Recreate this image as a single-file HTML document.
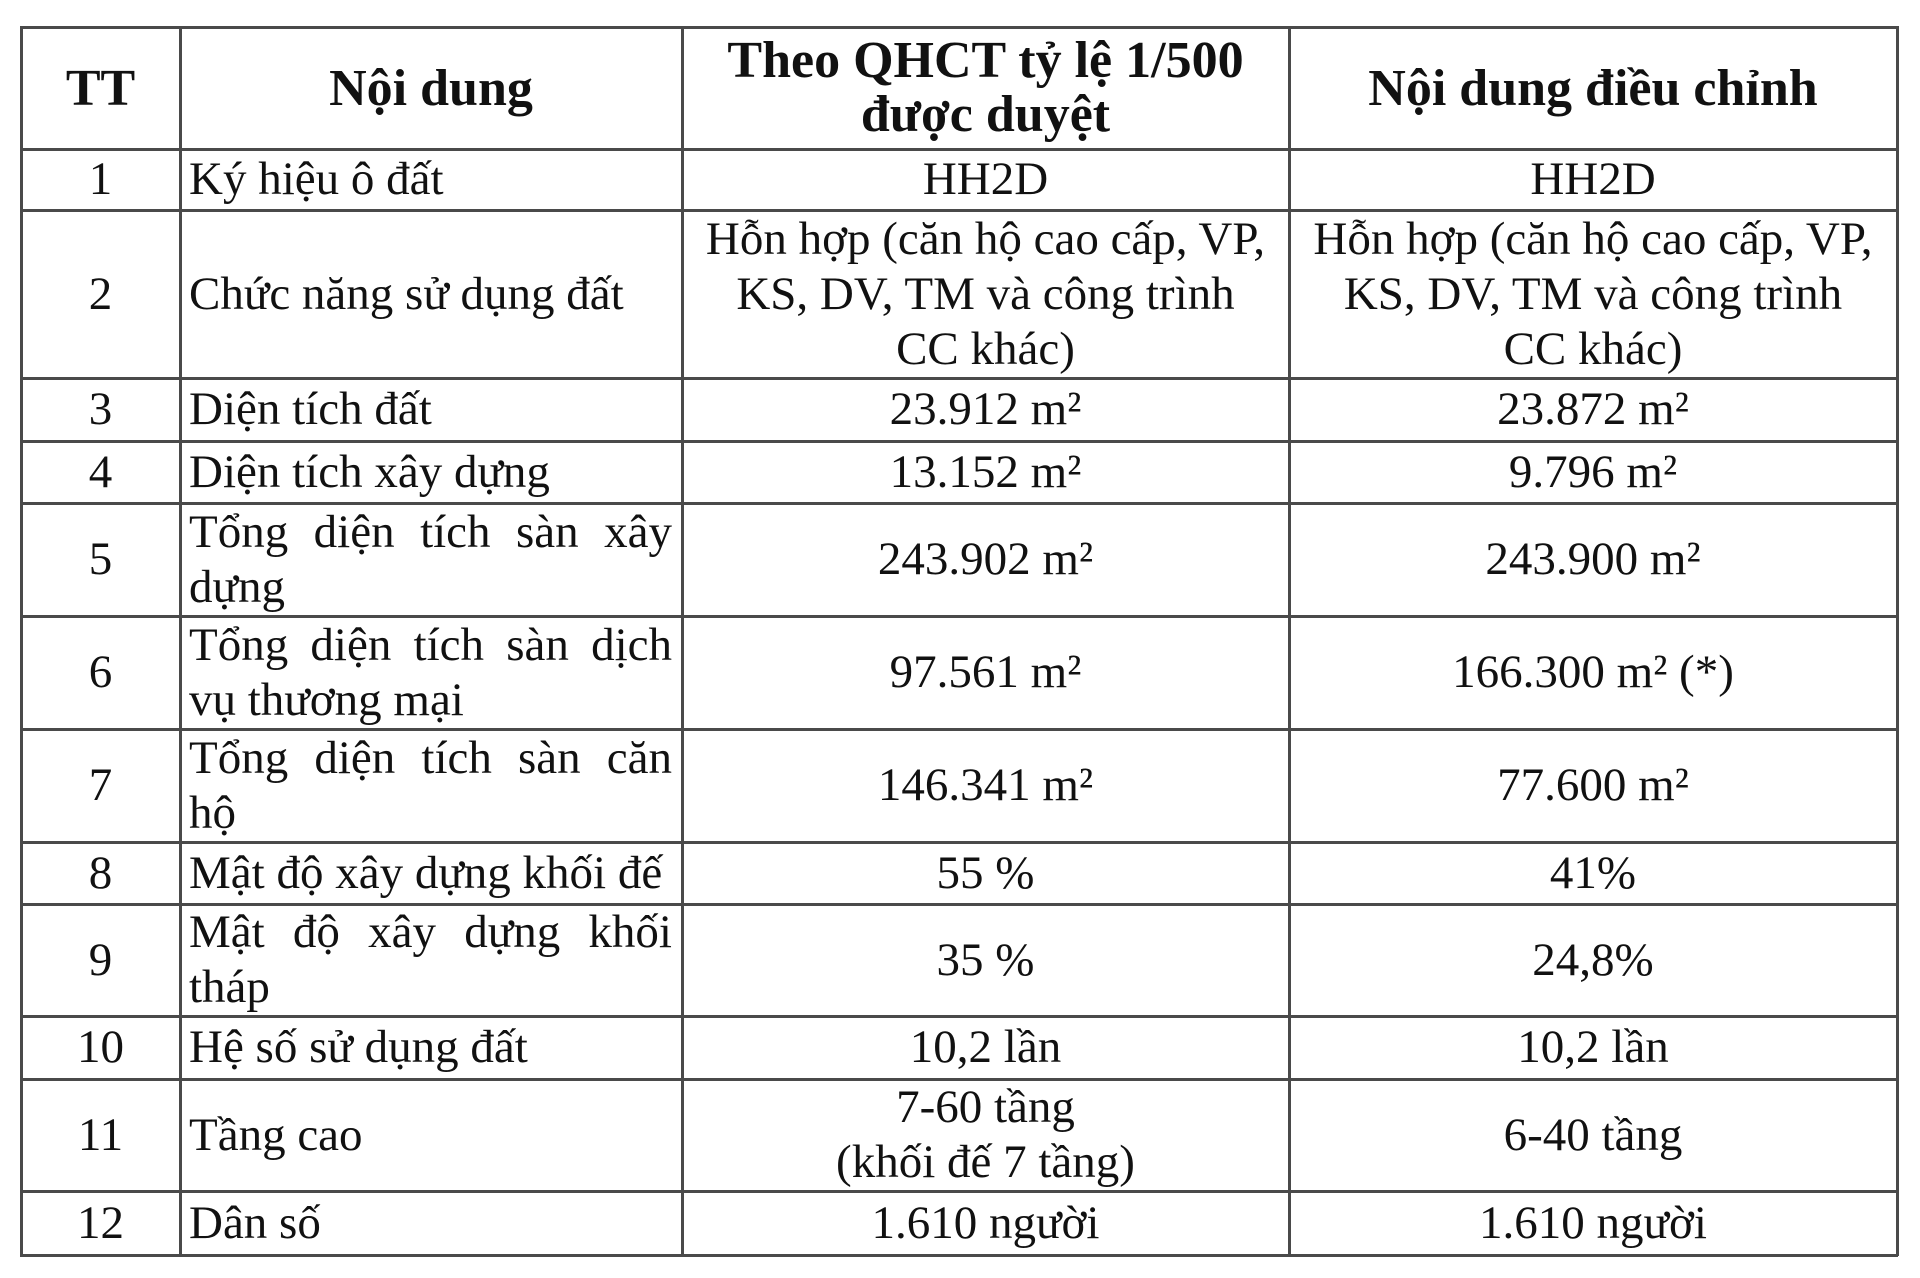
<!DOCTYPE html>
<html><head><meta charset="utf-8"><style>
body{margin:0;width:1920px;height:1278px;background:#fff;position:relative;overflow:hidden;font-family:"Liberation Serif","DejaVu Serif",serif;color:#111}
.c{position:absolute;display:flex;align-items:center;justify-content:center;text-align:center;font-size:47px;line-height:55px;box-sizing:border-box}
.l{justify-content:flex-start;text-align:left;padding-left:9px}
.j{justify-content:flex-start;padding:0 10px 0 9px;text-align:justify}
.j div{width:100%;text-align:justify;text-align-last:left}
.h{font-weight:bold;font-size:52px}
.hl{position:absolute;height:3px;background:#4a4a4a;left:20px;width:1878px}
.vl{position:absolute;width:3px;background:#4a4a4a;top:26px;height:1230px}
</style></head><body>
<div class="hl" style="top:26px"></div><div class="hl" style="top:148px"></div><div class="hl" style="top:209px"></div><div class="hl" style="top:377px"></div><div class="hl" style="top:440px"></div><div class="hl" style="top:502px"></div><div class="hl" style="top:615px"></div><div class="hl" style="top:728px"></div><div class="hl" style="top:841px"></div><div class="hl" style="top:903px"></div><div class="hl" style="top:1015px"></div><div class="hl" style="top:1078px"></div><div class="hl" style="top:1190px"></div><div class="hl" style="top:1254px"></div>
<div class="vl" style="left:20px"></div><div class="vl" style="left:179px"></div><div class="vl" style="left:681px"></div><div class="vl" style="left:1288px"></div><div class="vl" style="left:1896px"></div>

<div class="c h" style="left:21px;width:159px;top:27px;height:122px">TT</div>
<div class="c h" style="left:180px;width:502px;top:27px;height:122px">Nội dung</div>
<div class="c h" style="left:682px;width:607px;top:27px;height:122px;line-height:54px">Theo QHCT tỷ lệ 1/500<br>được duyệt</div>
<div class="c h" style="left:1289px;width:608px;top:27px;height:122px">Nội dung điều chỉnh</div>

<div class="c" style="left:21px;width:159px;top:149px;height:61px">1</div>
<div class="c l" style="left:180px;width:502px;top:149px;height:61px">Ký hiệu ô đất</div>
<div class="c" style="left:682px;width:607px;top:149px;height:61px">HH2D</div>
<div class="c" style="left:1289px;width:608px;top:149px;height:61px">HH2D</div>

<div class="c" style="left:21px;width:159px;top:210px;height:168px">2</div>
<div class="c l" style="left:180px;width:502px;top:210px;height:168px">Chức năng sử dụng đất</div>
<div class="c" style="left:682px;width:607px;top:210px;height:168px">Hỗn hợp (căn hộ cao cấp, VP,<br>KS, DV, TM và công trình<br>CC khác)</div>
<div class="c" style="left:1289px;width:608px;top:210px;height:168px">Hỗn hợp (căn hộ cao cấp, VP,<br>KS, DV, TM và công trình<br>CC khác)</div>

<div class="c" style="left:21px;width:159px;top:378px;height:63px">3</div>
<div class="c l" style="left:180px;width:502px;top:378px;height:63px">Diện tích đất</div>
<div class="c" style="left:682px;width:607px;top:378px;height:63px">23.912 m²</div>
<div class="c" style="left:1289px;width:608px;top:378px;height:63px">23.872 m²</div>

<div class="c" style="left:21px;width:159px;top:441px;height:62px">4</div>
<div class="c l" style="left:180px;width:502px;top:441px;height:62px">Diện tích xây dựng</div>
<div class="c" style="left:682px;width:607px;top:441px;height:62px">13.152 m²</div>
<div class="c" style="left:1289px;width:608px;top:441px;height:62px">9.796 m²</div>

<div class="c" style="left:21px;width:159px;top:503px;height:113px">5</div>
<div class="c j" style="left:180px;width:502px;top:503px;height:113px"><div>Tổng diện tích sàn xây dựng</div></div>
<div class="c" style="left:682px;width:607px;top:503px;height:113px">243.902 m²</div>
<div class="c" style="left:1289px;width:608px;top:503px;height:113px">243.900 m²</div>

<div class="c" style="left:21px;width:159px;top:616px;height:113px">6</div>
<div class="c j" style="left:180px;width:502px;top:616px;height:113px"><div>Tổng diện tích sàn dịch vụ thương mại</div></div>
<div class="c" style="left:682px;width:607px;top:616px;height:113px">97.561 m²</div>
<div class="c" style="left:1289px;width:608px;top:616px;height:113px">166.300 m² (*)</div>

<div class="c" style="left:21px;width:159px;top:729px;height:113px">7</div>
<div class="c j" style="left:180px;width:502px;top:729px;height:113px"><div>Tổng diện tích sàn căn hộ</div></div>
<div class="c" style="left:682px;width:607px;top:729px;height:113px">146.341 m²</div>
<div class="c" style="left:1289px;width:608px;top:729px;height:113px">77.600 m²</div>

<div class="c" style="left:21px;width:159px;top:842px;height:62px">8</div>
<div class="c l" style="left:180px;width:502px;top:842px;height:62px">Mật độ xây dựng khối đế</div>
<div class="c" style="left:682px;width:607px;top:842px;height:62px">55 %</div>
<div class="c" style="left:1289px;width:608px;top:842px;height:62px">41%</div>

<div class="c" style="left:21px;width:159px;top:904px;height:112px">9</div>
<div class="c j" style="left:180px;width:502px;top:904px;height:112px"><div>Mật độ xây dựng khối tháp</div></div>
<div class="c" style="left:682px;width:607px;top:904px;height:112px">35 %</div>
<div class="c" style="left:1289px;width:608px;top:904px;height:112px">24,8%</div>

<div class="c" style="left:21px;width:159px;top:1016px;height:63px">10</div>
<div class="c l" style="left:180px;width:502px;top:1016px;height:63px">Hệ số sử dụng đất</div>
<div class="c" style="left:682px;width:607px;top:1016px;height:63px">10,2 lần</div>
<div class="c" style="left:1289px;width:608px;top:1016px;height:63px">10,2 lần</div>

<div class="c" style="left:21px;width:159px;top:1079px;height:112px">11</div>
<div class="c l" style="left:180px;width:502px;top:1079px;height:112px">Tầng cao</div>
<div class="c" style="left:682px;width:607px;top:1079px;height:112px">7-60 tầng<br>(khối đế 7 tầng)</div>
<div class="c" style="left:1289px;width:608px;top:1079px;height:112px">6-40 tầng</div>

<div class="c" style="left:21px;width:159px;top:1191px;height:64px">12</div>
<div class="c l" style="left:180px;width:502px;top:1191px;height:64px">Dân số</div>
<div class="c" style="left:682px;width:607px;top:1191px;height:64px">1.610 người</div>
<div class="c" style="left:1289px;width:608px;top:1191px;height:64px">1.610 người</div>
</body></html>
